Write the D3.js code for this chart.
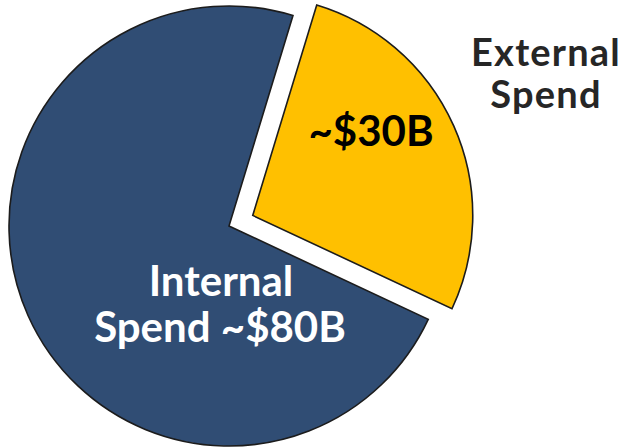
<!DOCTYPE html>
<html>
<head>
<meta charset="utf-8">
<script src="https://cdn.jsdelivr.net/npm/d3@7"></script>
<style>
  html, body { margin: 0; padding: 0; background: #ffffff; }
  svg { display: block; }
  text { font-family: Lato, "Open Sans", sans-serif; font-weight: 700; }
</style>
</head>
<body>
<svg id="chart" width="633" height="448"></svg>
<script>
// Spend split, in billions of dollars
const categories = ["External Spend", "Internal Spend"];
const values = [30, 80];
const sliceColors = ["#ffc000", "#304d74"];
const valueLabels = ["~$30B", "~$80B"];

const width = 633, height = 448;
const cx = 229, cy = 226, radius = 220;
const explode = 26;               // pull-out distance of the external slice
const bisectDeg = 66;             // direction of the external slice's middle

const svg = d3.select("#chart");
const g = svg.append("g").attr("transform", `translate(${cx},${cy})`);

const total = d3.sum(values);
const extSpan = 2 * Math.PI * values[0] / total;
const start = bisectDeg * Math.PI / 180 - extSpan / 2;

const pie = d3.pie().sort(null).value(d => d)
  .startAngle(start).endAngle(start + 2 * Math.PI);
const arcs = pie(values);
const arc = d3.arc().innerRadius(0).outerRadius(radius);

g.selectAll("path.slice")
  .data(arcs)
  .join("path")
  .attr("class", "slice")
  .attr("d", arc)
  .attr("fill", (d, i) => sliceColors[i])
  .attr("stroke", "#1c1c1c")
  .attr("stroke-width", 1.6)
  .attr("stroke-linejoin", "miter")
  .attr("transform", (d, i) => {
    if (i !== 0) return null;
    const mid = (d.startAngle + d.endAngle) / 2;
    return `translate(${explode * Math.sin(mid)},${-explode * Math.cos(mid)})`;
  });

// Value label inside the external slice
g.append("text")
  .attr("x", 371 - cx).attr("y", 146 - cy)
  .attr("text-anchor", "middle")
  .attr("font-size", 42)
  .attr("fill", "#000000")
  .text(valueLabels[0]);

// Category label beside the external slice
const extLabel = svg.append("text")
  .attr("text-anchor", "middle")
  .attr("font-size", 38)
  .attr("letter-spacing", 1.2)
  .attr("fill", "#262626");
extLabel.append("tspan").attr("x", 546).attr("y", 66).text(categories[0].split(" ")[0]);
extLabel.append("tspan").attr("x", 546).attr("y", 108).text(categories[0].split(" ")[1]);

// Label inside the internal slice
const intLabel = svg.append("text")
  .attr("text-anchor", "middle")
  .attr("font-size", 42)
  .attr("fill", "#ffffff");
intLabel.append("tspan").attr("x", 221).attr("y", 296).text(categories[1].split(" ")[0]);
intLabel.append("tspan").attr("x", 220).attr("y", 342).text(categories[1].split(" ")[1] + " " + valueLabels[1]);
</script>
</body>
</html>
